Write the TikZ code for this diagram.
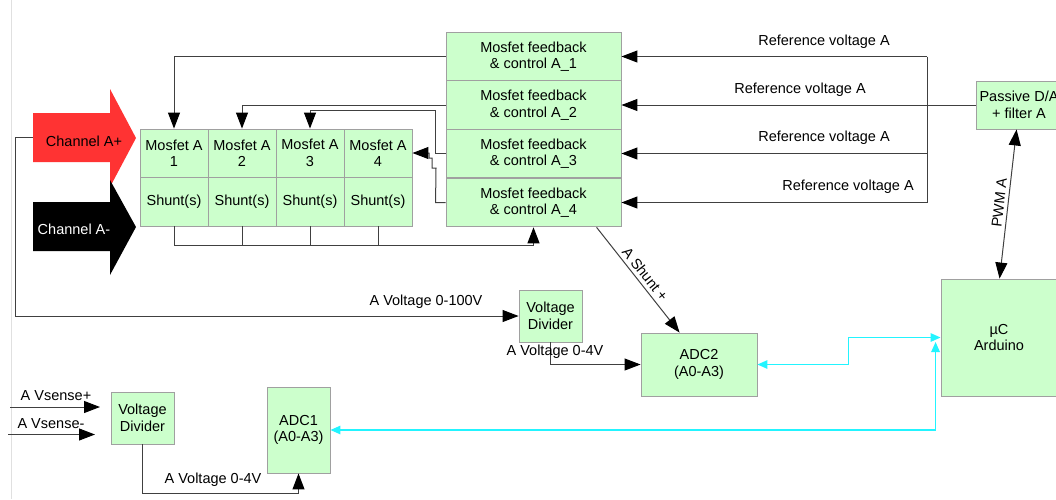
\documentclass[tikz,border=0pt]{standalone}
\usepackage{fontspec}
\setmainfont{Liberation Sans}
\usetikzlibrary{arrows.meta}
\usetikzlibrary{calc}
\definecolor{blkgreen}{HTML}{CCFFCC}
\definecolor{blkedge}{HTML}{A0A0A0}
\definecolor{chanred}{HTML}{FF3333}
\definecolor{buscyan}{HTML}{22F4FF}
\newcommand{\lblfont}{\fontsize{14.5}{16.5}\selectfont}

\begin{document}
\begin{tikzpicture}[x=1pt, y=-1pt,
    every node/.style={font=\lblfont},
    blk/.style={draw=blkedge, fill=blkgreen, line width=0.9pt, align=center, inner sep=0pt},
    wire/.style={draw=black!75, line width=1pt},
    sig/.style={wire, -{Triangle[length=16pt,width=12pt,black]}},
    dsig/.style={wire, {Triangle[length=16pt,width=12pt,black]}-{Triangle[length=16pt,width=12pt,black]}},
    cbus/.style={draw=buscyan, line width=1.4pt, {Triangle[length=10pt,width=8.5pt]}-{Triangle[length=10pt,width=8.5pt]}}]
        % frame
        \useasboundingbox (0,0) rectangle (1056,499);
        \clip (0,0) rectangle (1056,499);
        \fill[white] (0,0) rectangle (1056,499);
        \draw[black!12, line width=1pt] (11,0) -- (11,499);

        % channel arrows
        \fill[chanred] (33,113) -- (110,113) -- (110,89) -- (136,138) -- (110,187) -- (110,162) -- (33,162) -- cycle;
        \fill[black] (33,202) -- (110,202) -- (110,180) -- (136,227) -- (110,275) -- (110,251) -- (33,251) -- cycle;
        \node (chanP) at (84,141) {Channel A+};
        \node[text=white] (chanN) at (74,229) {Channel A-};
        \coordinate (chanPin) at (33,137.5);

        % mosfets and shunts
        \node[blk, minimum width=68, minimum height=48] (mosA1) at (174,153) {Mosfet A\\1};
        \node[blk, minimum width=68, minimum height=48] (mosA2) at (242,153) {Mosfet A\\2};
        \node[blk, minimum width=68, minimum height=48] (mosA3) at (310,153) {Mosfet A\\3};
        \node[blk, minimum width=68, minimum height=48] (mosA4) at (378,153) {Mosfet A\\4};
        \node[blk, minimum width=68, minimum height=49] (shA1) at (174,201.5) {Shunt(s)};
        \node[blk, minimum width=68, minimum height=49] (shA2) at (242,201.5) {Shunt(s)};
        \node[blk, minimum width=68, minimum height=49] (shA3) at (310,201.5) {Shunt(s)};
        \node[blk, minimum width=68, minimum height=49] (shA4) at (378,201.5) {Shunt(s)};

        % feedback blocks
        \node[blk, minimum width=175, minimum height=48.7] (fb1) at (533.5,56.5) {Mosfet feedback\\\& control A\_1};
        \node[blk, minimum width=175, minimum height=48.7] (fb2) at (533.5,105) {Mosfet feedback\\\& control A\_2};
        \node[blk, minimum width=175, minimum height=48.7] (fb3) at (533.5,153.5) {Mosfet feedback\\\& control A\_3};
        \node[blk, minimum width=175, minimum height=48.7] (fb4) at (533.5,202.5) {Mosfet feedback\\\& control A\_4};

        % other blocks
        \node[blk, minimum width=86, minimum height=48] (dac) at (1019,105) {Passive D/A\\+ filter A};
        \node[blk, minimum width=116, minimum height=117] (uc) at (999,337.5) {µC\\Arduino};
        \node[blk, minimum width=116, minimum height=63] (adc2) at (699,364.5) {ADC2\\(A0-A3)};
        \node[blk, minimum width=63, minimum height=86] (adc1) at (298.5,430) {ADC1\\(A0-A3)};
        \node[blk, minimum width=63, minimum height=52] (vdivHi) at (550.5,316) {Voltage\\Divider};
        \node[blk, minimum width=63, minimum height=52] (vdivLo) at (142.5,418) {Voltage\\Divider};

        % feedback to mosfets
        \draw[sig] (fb1.west) -| (mosA1.north);
        \draw[sig] (fb2.west) -| (mosA2.north);
        \draw[sig] (fb3.west) -- ++(-10,0) -- ++(0,-43.5) -| (mosA3.north);
        \draw[sig] (fb4.west) -- ++(-10,0) -- (436,168) -- (432,168) -- (432,158) -- (429,158) |- (mosA4.east);

        % shunt return
        \draw[sig] (shA1.south) -- ++(0,19) -| (fb4.south);
        \draw[wire] (shA2.south) -- ++(0,19);
        \draw[wire] (shA3.south) -- ++(0,19);
        \draw[wire] (shA4.south) -- ++(0,19);

        % reference voltages
        \coordinate (ref1) at (927,56.5);
        \coordinate (ref2) at (927,105);
        \coordinate (ref3) at (927,153.5);
        \coordinate (ref4) at (927,202.5);
        \draw[wire] (ref1) -- (ref4);
        \draw[wire] (dac.west) -- (ref2);
        \draw[sig] (ref1) -- (fb1.east);
        \draw[sig] (ref2) -- (fb2.east);
        \draw[sig] (ref3) -- (fb3.east);
        \draw[sig] (ref4) -- (fb4.east);
        \node (lblref1) at (824,42) {Reference voltage A};
        \node (lblref2) at (800,90) {Reference voltage A};
        \node (lblref3) at (824,138) {Reference voltage A};
        \node (lblref4) at (848,187) {Reference voltage A};

        % pwm
        \draw[dsig] ($(uc.north west)+(59,0)$) -- ($(dac.south west)+(41,0)$) node[midway, sloped, above] (lblpwm) {PWM A};

        % voltage sense
        \draw[sig] (chanPin) -| (15,316) -- (vdivHi.west);
        \node (lblvhi) at (426,302) {A Voltage 0-100V};
        \draw[sig] (vdivHi.south) |- (adc2.west);
        \node (lblvmid) at (555,352) {A Voltage 0-4V};
        \draw[sig] ($(fb4.south west)+(151,0)$) -- ($(adc2.north west)+(39,0)$) node[midway, sloped, above] (lblshunt) {A Shunt +};

        \coordinate (vsPin) at (10,407);
        \coordinate (vsPtip) at (100,407);
        \coordinate (vsNin) at (8,434.5);
        \coordinate (vsNtip) at (95,434.5);
        \draw[sig] (vsPin) -- (vsPtip);
        \draw[sig] (vsNin) -- (vsNtip);
        \node (lblvsp) at (56,396) {A Vsense+};
        \node (lblvsn) at (51,424) {A Vsense-};
        \draw[sig] (vdivLo.south) |- ($(adc1.south)+(0,20)$) -- (adc1.south);
        \node (lblvlo) at (213,480) {A Voltage 0-4V};

        % adc buses
        \draw[cbus] (adc2.east) -| ($(uc.west)+(-92,0)$) -- (uc.west);
        \draw[cbus] (adc1.east) -| ($(uc.west)+(-5,4.5)$);
\end{tikzpicture}
\end{document}
